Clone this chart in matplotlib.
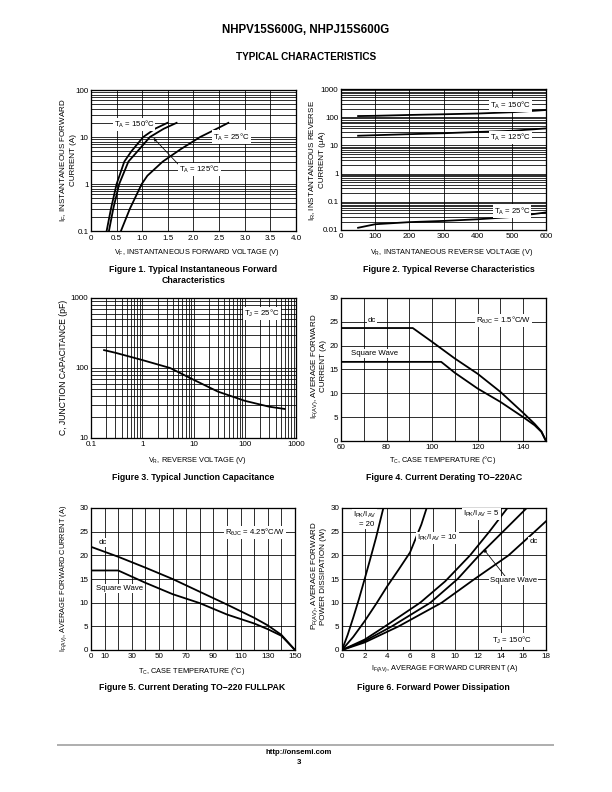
import numpy as np
import matplotlib
matplotlib.use('Agg')
import matplotlib.pyplot as plt
from matplotlib.ticker import FixedLocator, NullFormatter, LogLocator
from matplotlib.lines import Line2D

plt.rcParams['font.family'] = ['Liberation Sans', 'DejaVu Sans']
plt.rcParams['mathtext.default'] = 'regular'

# Figure 1 - forward characteristics (V, A)
vf_150 = [0.305, 0.39, 0.5, 0.65, 0.79, 1.02, 1.25, 1.49]
if_150 = [0.1, 0.3, 1, 3, 5, 10, 15, 20]
vf_125 = [0.35, 0.435, 0.55, 0.73, 0.91, 1.15, 1.42, 1.67]
if_125 = [0.1, 0.3, 1, 3, 5, 10, 15, 20]
vf_25 = [0.584, 0.76, 0.99, 1.1, 1.4, 1.75, 2.13, 2.4, 2.68]
if_25 = [0.1, 0.3, 1, 1.5, 3, 5.5, 10, 14, 20]

# Figure 2 - reverse characteristics (V, uA)
vr = [50, 100, 200, 300, 400, 500, 600]
ir_150 = [110, 112, 120, 127, 135, 150, 180]
ir_125 = [22, 23, 25, 27, 30, 33, 40]
ir_25 = [0.012, 0.016, 0.019, 0.021, 0.024, 0.029, 0.042]

# Figure 3 - junction capacitance (V, pF)
vr_cap = [0.18, 0.3, 1, 3.5, 10, 30, 100, 300, 600]
cap = [180, 165, 130, 100, 68, 46, 34, 28, 26]

# Figure 4 - derating TO-220AC (degC, A)
tc4_dc = [60, 91.5, 100, 110, 120, 130, 140, 145, 148, 150]
if4_dc = [23.7, 23.7, 20.8, 17.3, 14.1, 10.3, 5.9, 3.6, 2.0, 0]
tc4_sq = [60, 104, 110, 120, 130, 140, 145, 148, 150]
if4_sq = [16.6, 16.6, 14.3, 11.0, 8.2, 5.0, 3.3, 1.9, 0]

# Figure 5 - derating TO-220 FULLPAK (degC, A)
tc5_dc = [0, 20, 40, 60, 80, 100, 110, 120, 130, 140, 150]
if5_dc = [21.8, 19.7, 17.4, 15.0, 12.3, 9.6, 8.2, 6.8, 5.2, 3.2, 0]
tc5_sq = [0, 20, 40, 60, 80, 100, 120, 130, 140, 150]
if5_sq = [16.8, 16.8, 14.2, 11.8, 9.9, 7.5, 5.6, 4.4, 3.0, 0]

# Figure 6 - forward power dissipation (A, W)
ia_20 = [0, 0.5, 1, 1.5, 2, 2.5, 3, 3.65]
pf_20 = [0, 3.2, 6.9, 10.8, 15, 19.3, 23.7, 30]
ia_10 = [0, 1, 2, 3, 4, 5, 6, 7, 7.47]
pf_10 = [0, 2.8, 6.1, 9.7, 13.5, 17, 20.6, 26.5, 30]
ia_5 = [0, 2, 3.8, 6.9, 9.1, 11.3, 13.0, 14.6]
pf_5 = [0, 2.2, 5, 10, 14.5, 20, 25, 30]
ia_sq = [0, 2, 4.4, 7.8, 10.2, 12.1, 14.2, 16.3]
pf_sq = [0, 1.9, 5, 10, 15, 20, 25, 30]
ia_dc = [0, 2, 5, 8.8, 11.7, 14.7, 17, 18]
pf_dc = [0, 1.6, 5, 10, 15, 20, 25, 27.2]

W, H = 612, 792
fig = plt.figure(figsize=(8.5, 11), dpi=72)


def px_axes(x0, y0, x1, y1):
    return fig.add_axes([x0 / W, 1 - y1 / H, (x1 - x0) / W, (y1 - y0) / H])


def txt(x, y, s, **kw):
    fig.text(x / W, 1 - y / H, s, ha='center', va='center', **kw)


def style(ax):
    ax.tick_params(which='both', length=0, labelsize=8)
    ax.tick_params(axis='x', pad=3.5)
    ax.tick_params(axis='y', pad=2.5)
    for s in ax.spines.values():
        s.set_linewidth(1.3)
    ax.grid(True, which='both', color='black', lw=0.8)
    ax.set_axisbelow(True)


box = dict(facecolor='white', edgecolor='none', pad=1)
clw = 1.8
lab = 7.4
note = 7.8
cap_kw = dict(fontsize=8.7, fontweight='bold')

txt(306, 30, 'NHPV15S600G, NHPJ15S600G', fontsize=11.5, fontweight='bold')
txt(306, 57, 'TYPICAL CHARACTERISTICS', fontsize=10, fontweight='bold')

# ---- Figure 1
ax = px_axes(91, 90, 296, 231)
ax.set_yscale('log')
ax.plot(vf_150, if_150, color='black', lw=clw)
ax.plot(vf_125, if_125, color='black', lw=clw)
ax.plot(vf_25, if_25, color='black', lw=clw)
ax.set_xlim(0, 4)
ax.set_ylim(0.1, 100)
ax.xaxis.set_major_locator(FixedLocator(np.arange(0, 4.01, 0.5)))
ax.set_xticklabels(['0', '0.5', '1.0', '1.5', '2.0', '2.5', '3.0', '3.5', '4.0'])
ax.yaxis.set_major_locator(FixedLocator([0.1, 1, 10, 100]))
ax.set_yticklabels(['0.1', '1', '10', '100'])
ax.yaxis.set_minor_locator(LogLocator(subs=np.arange(2, 10)))
ax.yaxis.set_minor_formatter(NullFormatter())
style(ax)
ax.grid(False, which='minor', axis='x')
ax.text(0.84, 18.6, 'T$_A$ = 150°C', fontsize=note, ha='center', va='center', bbox=box)
ax.text(2.74, 10, 'T$_A$ = 25°C', fontsize=note, ha='center', va='center', bbox=box)
ax.annotate('T$_A$ = 125°C', xy=(1.22, 9.5), xytext=(2.12, 2.0), fontsize=note,
            ha='center', va='center', bbox=box,
            arrowprops=dict(arrowstyle='-|>', color='black', lw=0.8, mutation_scale=6,
                            shrinkA=0, shrinkB=0, relpos=(0.0, 0.9)))
txt(197, 253, 'V$_F$, INSTANTANEOUS FORWARD VOLTAGE (V)', fontsize=lab)
txt(68, 160, 'I$_F$, INSTANTANEOUS FORWARD\nCURRENT (A)', fontsize=8,
    rotation=90, linespacing=1.05)
txt(193.5, 269, 'Figure 1. Typical Instantaneous Forward', **cap_kw)
txt(194, 280, 'Characteristics', **cap_kw)

# ---- Figure 2
ax = px_axes(341, 89, 546, 230)
ax.set_yscale('log')
ax.plot(vr, ir_150, color='black', lw=clw)
ax.plot(vr, ir_125, color='black', lw=clw)
ax.plot(vr, ir_25, color='black', lw=clw)
ax.set_xlim(0, 600)
ax.set_ylim(0.01, 1000)
ax.xaxis.set_major_locator(FixedLocator(np.arange(0, 601, 100)))
ax.yaxis.set_major_locator(FixedLocator([0.01, 0.1, 1, 10, 100, 1000]))
ax.set_yticklabels(['0.01', '0.1', '1', '10', '100', '1000'])
ax.yaxis.set_minor_locator(LogLocator(subs=np.arange(2, 10)))
ax.yaxis.set_minor_formatter(NullFormatter())
style(ax)
ax.grid(False, which='minor', axis='x')
ax.text(495, 271, 'T$_A$ = 150°C', fontsize=note, ha='center', va='center', bbox=box)
ax.text(497, 19.4, 'T$_A$ = 125°C', fontsize=note, ha='center', va='center', bbox=box)
ax.text(500, 0.047, 'T$_A$ = 25°C', fontsize=note, ha='center', va='center', bbox=box)
txt(452, 253, 'V$_R$, INSTANTANEOUS REVERSE VOLTAGE (V)', fontsize=lab)
txt(317, 160, 'I$_R$, INSTANTANEOUS REVERSE\nCURRENT (μA)', fontsize=8,
    rotation=90, linespacing=1.05)
txt(449, 269, 'Figure 2. Typical Reverse Characteristics', **cap_kw)

# ---- Figure 3
ax = px_axes(91, 298, 296, 438)
ax.set_xscale('log')
ax.set_yscale('log')
ax.plot(vr_cap, cap, color='black', lw=clw)
ax.set_xlim(0.1, 1000)
ax.set_ylim(10, 1000)
ax.xaxis.set_major_locator(FixedLocator([0.1, 1, 10, 100, 1000]))
ax.set_xticklabels(['0.1', '1', '10', '100', '1000'])
ax.yaxis.set_major_locator(FixedLocator([10, 100, 1000]))
ax.set_yticklabels(['10', '100', '1000'])
ax.xaxis.set_minor_locator(LogLocator(subs=np.arange(2, 10)))
ax.yaxis.set_minor_locator(LogLocator(subs=np.arange(2, 10)))
ax.xaxis.set_minor_formatter(NullFormatter())
ax.yaxis.set_minor_formatter(NullFormatter())
style(ax)
ax.text(217, 604, 'T$_J$ = 25°C', fontsize=note, ha='center', va='center', bbox=box)
txt(197, 460, 'V$_R$, REVERSE VOLTAGE (V)', fontsize=lab)
txt(63, 367, 'C, JUNCTION CAPACITANCE (pF)', fontsize=8.6, rotation=90)
txt(193, 478, 'Figure 3. Typical Junction Capacitance', **cap_kw)

# ---- Figure 4
ax = px_axes(341, 298, 546, 441)
ax.plot(tc4_dc, if4_dc, color='black', lw=clw)
ax.plot(tc4_sq, if4_sq, color='black', lw=clw)
ax.set_xlim(60, 150)
ax.set_ylim(0, 30)
ax.xaxis.set_major_locator(FixedLocator(np.arange(60, 151, 10)))
ax.set_xticklabels(['60', '', '80', '', '100', '', '120', '', '140', ''])
ax.yaxis.set_major_locator(FixedLocator(np.arange(0, 31, 5)))
style(ax)
ax.text(73.5, 25.3, 'dc', fontsize=note, ha='center', va='center', bbox=box)
ax.text(131.3, 25.3, 'R$_{θJC}$ = 1.5°C/W', fontsize=note, ha='center', va='center', bbox=box)
ax.text(74.6, 18.3, 'Square Wave', fontsize=note, ha='center', va='center', bbox=box)
txt(442.5, 460, 'T$_C$, CASE TEMPERATURE (°C)', fontsize=lab)
txt(318, 366, 'I$_{F(AV)}$, AVERAGE FORWARD\nCURRENT (A)', fontsize=8,
    rotation=90, linespacing=1.05)
txt(444, 478, 'Figure 4. Current Derating TO\u2212220AC', **cap_kw)

# ---- Figure 5
ax = px_axes(91, 508, 295, 650)
ax.plot(tc5_dc, if5_dc, color='black', lw=clw)
ax.plot(tc5_sq, if5_sq, color='black', lw=clw)
ax.set_xlim(0, 150)
ax.set_ylim(0, 30)
ax.xaxis.set_major_locator(FixedLocator(np.arange(0, 151, 10)))
ax.set_xticklabels(['0', '10', '', '30', '', '50', '', '70', '', '90', '', '110', '', '130', '', '150'])
ax.yaxis.set_major_locator(FixedLocator(np.arange(0, 31, 5)))
style(ax)
ax.text(8.3, 22.7, 'dc', fontsize=note, ha='center', va='center', bbox=box)
ax.text(120.4, 24.9, 'R$_{θJC}$ = 4.25°C/W', fontsize=note, ha='center', va='center', bbox=box)
ax.text(21.3, 13, 'Square Wave', fontsize=note, ha='center', va='center', bbox=box)
txt(192, 671, 'T$_C$, CASE TEMPERATURE (°C)', fontsize=lab)
txt(64, 578, 'I$_{F(AV)}$, AVERAGE FORWARD CURRENT (A)', fontsize=lab, rotation=90)
txt(192, 687, 'Figure 5. Current Derating TO\u2212220 FULLPAK', **cap_kw)

# ---- Figure 6
ax = px_axes(342, 508, 546, 650)
for xs, ys in [(ia_20, pf_20), (ia_10, pf_10), (ia_5, pf_5), (ia_sq, pf_sq), (ia_dc, pf_dc)]:
    ax.plot(xs, ys, color='black', lw=clw)
ax.set_xlim(0, 18)
ax.set_ylim(0, 30)
ax.xaxis.set_major_locator(FixedLocator(np.arange(0, 19, 2)))
ax.yaxis.set_major_locator(FixedLocator(np.arange(0, 31, 5)))
style(ax)
ax.text(2.0, 28.5, 'I$_{PK}$/I$_{AV}$', fontsize=note, ha='center', va='center', bbox=box)
ax.text(2.2, 26.6, '= 20', fontsize=note, ha='center', va='center', bbox=box)
ax.text(8.4, 23.7, 'I$_{PK}$/I$_{AV}$ = 10', fontsize=note, ha='center', va='center', bbox=box)
ax.text(12.3, 28.7, 'I$_{PK}$/I$_{AV}$ = 5', fontsize=note, ha='center', va='center', bbox=box)
ax.text(16.9, 22.9, 'dc', fontsize=note, ha='center', va='center', bbox=box)
ax.annotate('Square Wave', xy=(12.5, 21.3), xytext=(15.1, 14.6), fontsize=note,
            ha='center', va='center', bbox=box,
            arrowprops=dict(arrowstyle='-|>', color='black', lw=0.8, mutation_scale=6,
                            shrinkA=0, shrinkB=0, relpos=(0.35, 1.0)))
ax.text(15, 2.1, 'T$_J$ = 150°C', fontsize=note, ha='center', va='center', bbox=box)
txt(445, 669, 'I$_{F(AV)}$, AVERAGE FORWARD CURRENT (A)', fontsize=lab)
txt(318, 576, 'P$_{F(AV)}$, AVERAGE FORWARD\nPOWER DISSIPATION (W)', fontsize=8,
    rotation=90, linespacing=1.05)
txt(433, 687, 'Figure 6. Forward Power Dissipation', **cap_kw)

# footer
fig.add_artist(Line2D([58 / W, 553 / W], [1 - 745 / H, 1 - 745 / H],
                      color='#b0b0b0', lw=2, transform=fig.transFigure))
txt(299, 752, 'http://onsemi.com', fontsize=7.7, fontweight='bold')
txt(299, 763, '3', fontsize=7.7, fontweight='bold')

fig.savefig('out.png', dpi=72)
